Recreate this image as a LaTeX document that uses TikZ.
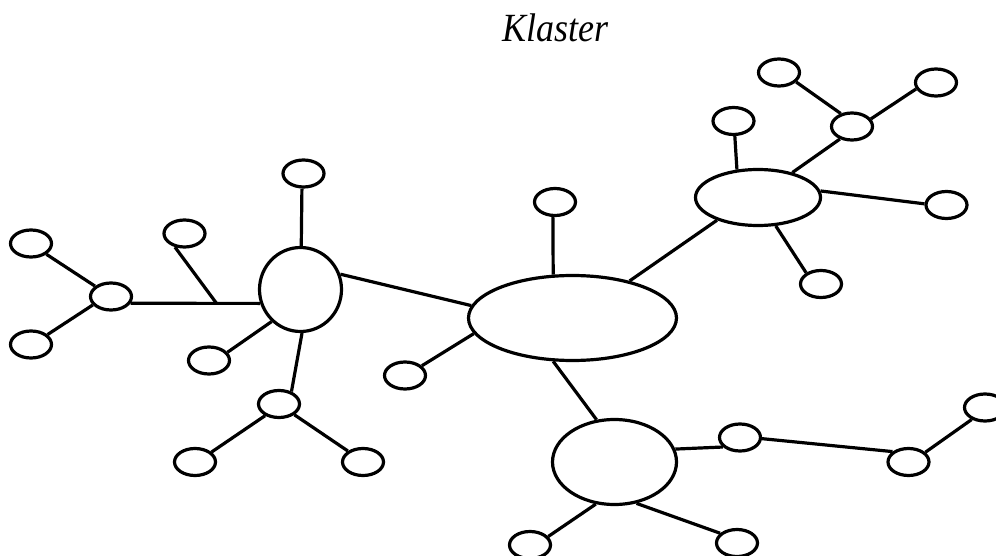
\documentclass[tikz,border=0pt]{standalone}
\usepackage{fontspec}
\setmainfont{Liberation Serif}
\newfontfamily\titlefont[FakeStretch=0.9]{Liberation Serif}
\usetikzlibrary{shapes.geometric}
\tikzset{
  bubble/.style={ellipse, draw=black, line width=2.4pt, fill=white, inner sep=0pt,
                 minimum width=30.75pt, minimum height=20.25pt},
  hub/.style={ellipse, draw=black, line width=2.4pt, fill=white, inner sep=0pt},
  link/.style={draw=black, line width=2.4pt}
}
\begin{document}
\begin{tikzpicture}[x=0.75pt,y=-0.75pt]
\useasboundingbox (0,0) rectangle (996,556);
\clip (0,0) rectangle (996,556);

% title
\node[anchor=base, inner sep=0pt, font=\titlefont\fontsize{30}{36}\selectfont\itshape] (title) at (555.5,42) {Klaster};

% hubs
\node[hub, minimum width=61.5pt, minimum height=63pt]   (BL) at (300.5,289.5) {};
\node[hub, minimum width=156pt,  minimum height=63.75pt] (C)  at (572.5,318) {};
\node[hub, minimum width=93.75pt, minimum height=42pt]  (R)  at (758,197.5) {};
\node[hub, minimum width=93pt,   minimum height=63.75pt] (B)  at (614.5,462) {};

% left group
\node[bubble] (L1) at (31,243.5) {};
\node[bubble] (L2) at (111,296.5) {};
\node[bubble] (L3) at (31,344.5) {};
\node[bubble] (L4) at (184.5,233.5) {};
\node[bubble] (L5) at (303.5,173.5) {};
\node[bubble] (L6) at (209,360.5) {};
\node[bubble] (L7) at (279,404) {};
\node[bubble] (L8) at (195,462) {};
\node[bubble] (L9) at (363,462) {};
\coordinate (J) at (217,304);

% centre group
\node[bubble] (C1) at (555,202) {};
\node[bubble] (C2) at (405,375.5) {};

% upper right group
\node[bubble] (R1) at (733.5,121) {};
\node[bubble] (R2) at (852,126.5) {};
\node[bubble] (R3) at (779,72.5) {};
\node[bubble] (R4) at (936,82.5) {};
\node[bubble] (R5) at (946.5,205) {};
\node[bubble] (R6) at (821,284) {};

% lower right group
\node[bubble] (B1) at (740,437.5) {};
\node[bubble] (B2) at (908.5,462) {};
\node[bubble] (B3) at (985,407.5) {};
\node[bubble] (B4) at (530,545) {};
\node[bubble] (B5) at (737,543) {};

% connectors
\draw[link] (L1.-35) -- (L2.147);
\draw[link] (L3.31) -- (L2.205);
\draw[link] (L2.-19) -- (BL.199);
\draw[link] (L4.-125) -- (J);
\draw[link] (L5.-96) -- (BL.89);
\draw[link] (L6.24) -- (BL.228);
\draw[link] (BL.-88) -- (L7.45);
\draw[link] (L7.220) -- (L8.31);
\draw[link] (L7.-35) -- (L9.144);
\draw[link] (BL.21) -- (C.173);
\draw[link] (C2.30) -- (C.189);
\draw[link] (C1.-98) -- (C.114);
\draw[link] (C.33.5) -- (R.209.5);
\draw[link] (C.246.6) -- (B.113.8);
\draw[link] (R1.-85) -- (R.127);
\draw[link] (R.36.6) -- (R2.226);
\draw[link] (R3.-29) -- (R2.131.6);
\draw[link] (R2.22.4) -- (R4.198);
\draw[link] (R.6.7) -- (R5.177.3);
\draw[link] (R.-58.2) -- (R6.143.7);
\draw[link] (B.12.1) -- (B1.209);
\draw[link] (B1.-3.2) -- (B2.147.6);
\draw[link] (B2.30.7) -- (B3.222.4);
\draw[link] (B.246.6) -- (B4.25.6);
\draw[link] (B.-62.9) -- (B5.150.6);
\end{tikzpicture}
\end{document}
